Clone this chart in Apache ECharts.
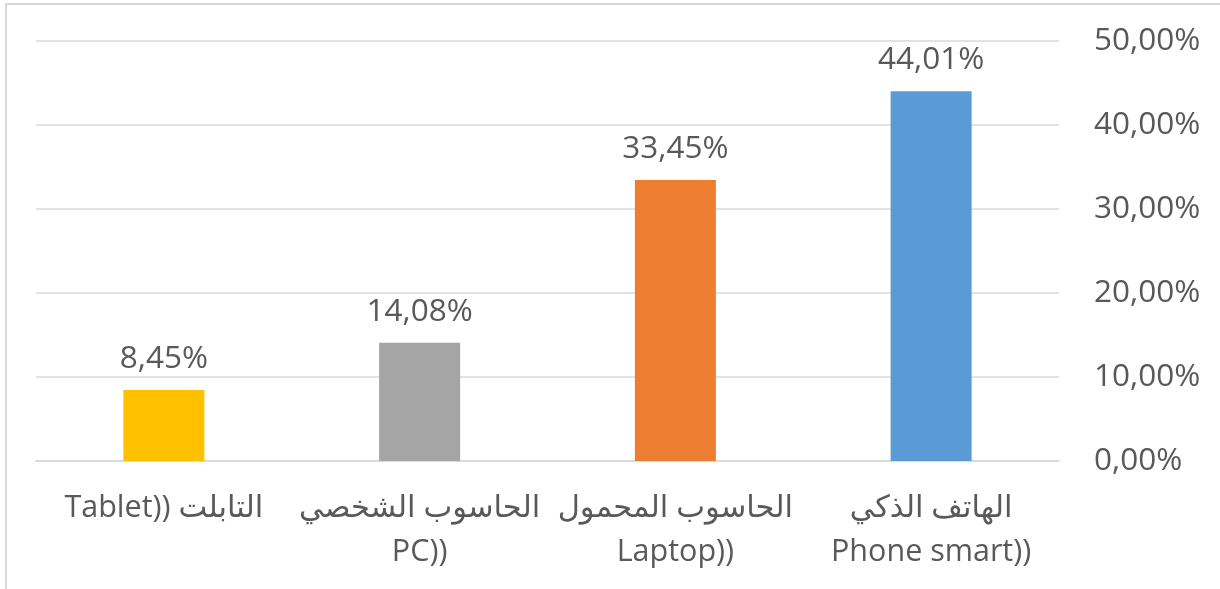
<!DOCTYPE html>
<html>
<head>
<meta charset="utf-8">
<title>chart</title>
<script src="https://cdn.jsdelivr.net/npm/echarts@6/dist/echarts.min.js"></script>
<style>
  html, body { margin: 0; padding: 0; background: #fff; }
  #main { width: 1220px; height: 589px; }
</style>
</head>
<body>
<div id="main"></div>
<script>
// categories, left to right as in the picture
var categories = [
  'Tablet)) التابلت',
  'الحاسوب الشخصي\nPC))',
  'الحاسوب المحمول\nLaptop))',
  'الهاتف الذكي\nPhone smart))'
];
var values = [8.45, 14.08, 33.45, 44.01];
var barColors = ['#FFC000', '#A5A5A5', '#ED7D31', '#5B9BD5'];
var yTicks = [0, 10, 20, 30, 40, 50];

var font = "'Open Sans', 'DejaVu Sans', sans-serif";
var textColor = '#595959';
var fsize = 31.5;

function pct(v) {
  return v.toFixed(2).replace('.', ',') + '%';
}

var myChart = echarts.init(document.getElementById('main'));
var option = {
  animation: false,
  backgroundColor: '#fff',
  grid: {
    left: 36,
    right: 161,
    top: 41,
    bottom: 128
  },
  graphic: [
    {
      type: 'rect',
      shape: { x: 6, y: 4, width: 1400, height: 800 },
      style: { fill: 'none', stroke: '#d9d9d9', lineWidth: 2 },
      silent: true
    }
  ],
  xAxis: {
    type: 'category',
    data: categories,
    axisTick: { show: false },
    axisLine: { lineStyle: { color: '#d9d9d9', width: 1.5 } },
    axisLabel: {
      interval: 0,
      margin: 25,
      color: textColor,
      fontFamily: font,
      fontSize: fsize - 1,
      lineHeight: 44
    }
  },
  yAxis: {
    type: 'value',
    position: 'right',
    min: yTicks[0],
    max: yTicks[yTicks.length - 1],
    interval: 10,
    axisLine: { show: false },
    axisTick: { show: false },
    splitLine: { lineStyle: { color: '#d9d9d9', width: 1.5 } },
    axisLabel: {
      margin: 35,
      color: textColor,
      fontFamily: font,
      fontSize: fsize,
      formatter: function (v) { return pct(v); }
    }
  },
  series: [
    {
      type: 'bar',
      barWidth: 81,
      data: values.map(function (v, i) {
        return { value: v, itemStyle: { color: barColors[i] } };
      }),
      label: {
        show: true,
        position: 'top',
        distance: 15,
        color: textColor,
        fontFamily: font,
        fontSize: fsize,
        formatter: function (p) { return pct(p.value); }
      }
    }
  ]
};
myChart.setOption(option);
</script>
</body>
</html>
